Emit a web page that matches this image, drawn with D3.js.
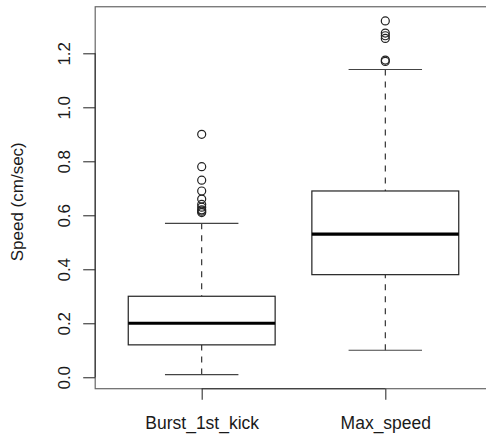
<!DOCTYPE html>
<html>
<head>
<meta charset="utf-8">
<script src="https://cdn.jsdelivr.net/npm/d3@7"></script>
<style>
  html, body { margin: 0; padding: 0; background: #fff; }
  svg { display: block; }
  text { font-family: "Liberation Sans", Arial, Helvetica, sans-serif; fill: #1a1a1a; }
</style>
</head>
<body>
<svg id="chart" width="486" height="438"></svg>
<script>
// Groups and their five-number summaries (speed in cm/sec)
const categories = ["Burst_1st_kick", "Max_speed"];
const whiskerLow = [0.01, 0.10];
const quartile1 = [0.12, 0.38];
const medians = [0.20, 0.53];
const quartile3 = [0.30, 0.69];
const whiskerHigh = [0.57, 1.14];
// Points beyond the whiskers, per group
const outliersBurst = [0.90, 0.78, 0.73, 0.69, 0.66, 0.64, 0.63, 0.62, 0.615, 0.61];
const outliersMax = [1.32, 1.275, 1.265, 1.255, 1.175, 1.17];
const outliers = [outliersBurst, outliersMax];
const yTicks = [0.0, 0.2, 0.4, 0.6, 0.8, 1.0, 1.2];
const yLabel = "Speed (cm/sec)";

const svg = d3.select("#chart");

// Value range over all data, padded 4% on each side
const allVals = whiskerLow.concat(whiskerHigh, outliersBurst, outliersMax);
const lo = d3.min(allVals), hi = d3.max(allVals);
const pad = (hi - lo) * 0.04;

const plot = { left: 95.2, right: 491.8, top: 6.75, bottom: 388.7 };

const y = d3.scaleLinear().domain([lo - pad, hi + pad]).range([plot.bottom, plot.top]);
// Group positions 1..n, spread over [0.5, n+0.5] padded 4%
const n = categories.length;
const xPad = n * 0.04;
const x = d3.scaleLinear().domain([0.5 - xPad, n + 0.5 + xPad]).range([plot.left, plot.right]);

const boxHalf = 0.4, capHalf = 0.2;

// Plot frame
svg.append("rect")
  .attr("x", plot.left).attr("y", plot.top)
  .attr("width", plot.right - plot.left).attr("height", plot.bottom - plot.top)
  .attr("fill", "none").attr("stroke", "#666").attr("stroke-width", 1.2);

// Y axis
const yAxis = svg.append("g").attr("transform", `translate(${plot.left},0)`)
  .call(d3.axisLeft(y).tickValues(yTicks).tickFormat(d3.format(".1f")).tickSizeOuter(0).tickSize(12).tickPadding(0));
yAxis.select(".domain").remove();
yAxis.selectAll(".tick line").attr("stroke", "#333").attr("stroke-width", 1.1);
yAxis.selectAll(".tick text")
  .attr("x", null).attr("dy", null).attr("text-anchor", "middle")
  .attr("transform", "translate(-25.5,0) rotate(-90)")
  .style("font-size", "17px").style("font-family", "'Liberation Sans', Arial, sans-serif")
  .attr("fill", "#1a1a1a");
yAxis.append("line")
  .attr("x1", 0).attr("x2", 0)
  .attr("y1", y(yTicks[0])).attr("y2", y(yTicks[yTicks.length - 1]))
  .attr("stroke", "#333").attr("stroke-width", 1.1);

// X axis
const xAxis = svg.append("g").attr("transform", `translate(0,${plot.bottom})`)
  .call(d3.axisBottom(x).tickValues(d3.range(1, n + 1)).tickFormat(i => categories[i - 1]).tickSizeOuter(0).tickSize(11).tickPadding(0));
xAxis.select(".domain").remove();
xAxis.selectAll(".tick line").attr("stroke", "#333").attr("stroke-width", 1.1);
xAxis.selectAll(".tick text")
  .attr("y", 40).attr("dy", null)
  .style("font-size", "17.5px").style("font-family", "'Liberation Sans', Arial, sans-serif")
  .attr("fill", "#1a1a1a");
xAxis.append("line")
  .attr("x1", x(1)).attr("x2", x(n)).attr("y1", 0).attr("y2", 0)
  .attr("stroke", "#333").attr("stroke-width", 1.1);

// Y axis title
svg.append("text")
  .attr("transform", `translate(23,${y(0.65)}) rotate(-90)`)
  .attr("text-anchor", "middle")
  .style("font-size", "17px")
  .text(yLabel);

// Boxes
const groups = svg.append("g").selectAll("g")
  .data(categories.map((c, i) => ({
    i: i + 1, lo: whiskerLow[i], q1: quartile1[i], med: medians[i], q3: quartile3[i], hi: whiskerHigh[i], out: outliers[i]
  })))
  .join("g");

const stroke = "#222";

// Dashed whiskers run from the caps toward the box
groups.append("line")
  .attr("x1", d => x(d.i)).attr("x2", d => x(d.i))
  .attr("y1", d => y(d.hi)).attr("y2", d => y(d.q3))
  .attr("stroke", stroke).attr("stroke-width", 1.1).attr("stroke-dasharray", "6,6");
groups.append("line")
  .attr("x1", d => x(d.i)).attr("x2", d => x(d.i))
  .attr("y1", d => y(d.lo)).attr("y2", d => y(d.q1))
  .attr("stroke", stroke).attr("stroke-width", 1.1).attr("stroke-dasharray", "6,6");

// Whisker caps
["lo", "hi"].forEach(k => {
  groups.append("line")
    .attr("x1", d => x(d.i - capHalf)).attr("x2", d => x(d.i + capHalf))
    .attr("y1", d => y(d[k])).attr("y2", d => y(d[k]))
    .attr("stroke", "#444").attr("stroke-width", 1.2);
});

// Interquartile box
groups.append("rect")
  .attr("x", d => x(d.i - boxHalf)).attr("width", d => x(d.i + boxHalf) - x(d.i - boxHalf))
  .attr("y", d => y(d.q3)).attr("height", d => y(d.q1) - y(d.q3))
  .attr("fill", "#fff").attr("stroke", stroke).attr("stroke-width", 1.2);

// Median
groups.append("line")
  .attr("x1", d => x(d.i - boxHalf)).attr("x2", d => x(d.i + boxHalf))
  .attr("y1", d => y(d.med)).attr("y2", d => y(d.med))
  .attr("stroke", "#000").attr("stroke-width", 3.2);

// Outliers
groups.selectAll("circle")
  .data(d => d.out.map(v => ({ i: d.i, v })))
  .join("circle")
  .attr("cx", d => x(d.i)).attr("cy", d => y(d.v)).attr("r", 4)
  .attr("fill", "none").attr("stroke", stroke).attr("stroke-width", 1.2);
</script>
</body>
</html>
